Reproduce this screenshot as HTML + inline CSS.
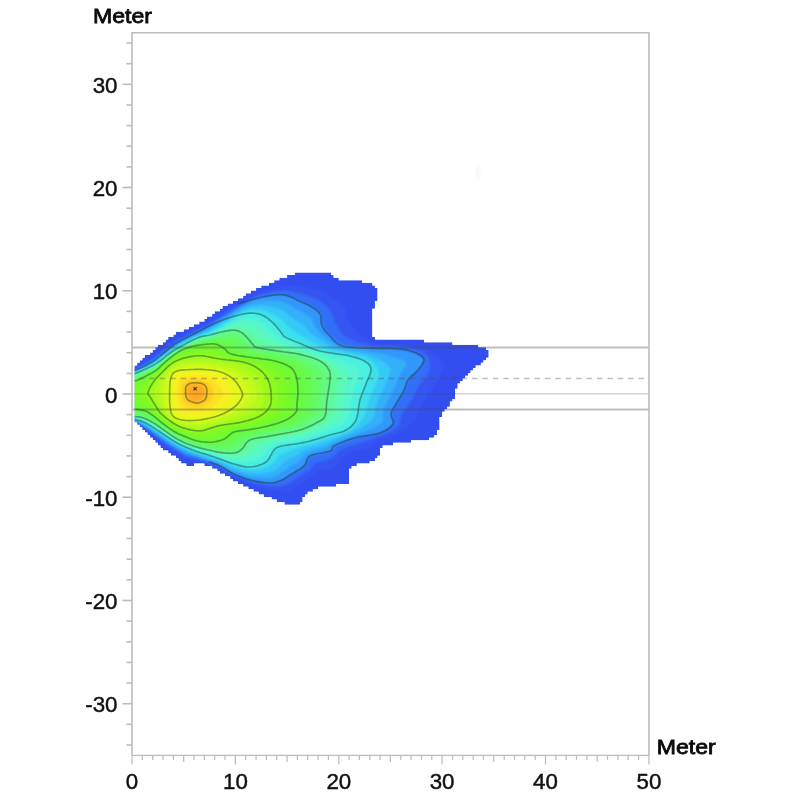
<!DOCTYPE html>
<html><head><meta charset="utf-8"><title>Meter</title>
<style>
html,body{margin:0;padding:0;background:#fff;}
body{width:800px;height:800px;overflow:hidden;position:relative;font-family:"Liberation Sans",sans-serif;}
svg{position:absolute;left:0;top:0;display:block;}
.lab{font-family:"Liberation Sans",sans-serif;font-size:22.3px;fill:#111;stroke:#111;stroke-width:0.45px;}
.ttl{font-family:"Liberation Sans",sans-serif;font-size:20.6px;fill:#0a0a0a;stroke:#0a0a0a;stroke-width:0.8px;}
</style></head><body>
<svg width="800" height="800" viewBox="0 0 800 800">
<defs>
<clipPath id="oc"><path d="M134.58,365.41 134.57,422.18 137.16,422.19 137.16,424.77 139.74,424.77 139.75,427.35 142.33,427.35 142.33,429.93 144.91,429.93 144.92,432.51 147.50,432.51 147.50,435.09 150.08,435.09 150.09,437.67 152.67,437.67 152.67,440.25 155.25,440.25 155.25,442.83 157.84,442.83 157.84,445.41 160.42,445.41 160.42,447.99 163.00,447.99 163.01,450.57 168.17,450.57 168.17,453.14 170.76,453.15 170.76,455.73 175.93,455.73 175.93,458.31 178.51,458.31 178.52,460.89 181.10,460.89 181.10,463.47 186.26,463.47 186.27,466.05 194.03,466.05 194.04,463.47 204.36,463.47 204.36,466.05 212.11,466.05 212.11,468.63 217.28,468.63 217.28,471.20 219.86,471.21 219.87,473.79 225.03,473.79 225.04,476.37 230.20,476.37 230.20,478.94 232.79,478.95 232.79,481.53 237.95,481.53 237.96,484.11 243.12,484.11 243.13,486.69 248.29,486.69 248.30,489.27 253.46,489.27 253.47,491.85 258.63,491.85 258.64,494.43 263.80,494.43 263.81,497.01 271.55,497.01 271.56,499.59 276.72,499.59 276.73,502.17 284.48,502.17 284.48,504.75 299.99,504.75 300.00,502.17 302.59,502.16 302.59,497.01 305.17,497.01 305.17,494.43 307.75,494.42 307.76,491.85 312.92,491.85 312.92,489.27 318.09,489.27 318.09,486.69 336.18,486.69 336.19,484.11 349.10,484.11 349.11,468.63 351.69,468.63 351.69,466.05 356.86,466.05 356.86,463.47 369.77,463.47 369.78,460.89 374.95,460.89 374.95,458.31 377.53,458.31 377.54,455.73 380.12,455.72 380.12,447.99 382.70,447.99 382.71,445.41 393.04,445.41 393.04,442.83 411.13,442.83 411.14,440.25 429.22,440.25 429.23,437.67 434.39,437.67 434.40,435.09 436.98,435.08 436.98,429.93 439.57,429.92 439.57,417.03 442.15,417.02 442.15,411.87 444.73,411.87 444.73,409.29 447.32,409.28 447.32,406.71 449.90,406.71 449.90,401.55 452.48,401.55 452.49,398.97 455.07,398.96 455.07,388.65 457.66,388.64 457.66,383.49 460.24,383.49 460.24,380.91 462.82,380.91 462.83,378.33 465.41,378.33 465.41,375.75 467.99,375.75 467.99,373.17 470.58,373.17 470.58,370.59 473.16,370.58 473.16,368.01 475.75,368.01 475.75,365.43 480.91,365.43 480.92,362.85 483.50,362.84 483.50,360.27 486.08,360.27 486.09,357.69 488.67,357.69 488.67,349.94 486.09,349.93 486.08,347.35 478.33,347.35 478.32,344.77 452.49,344.77 452.48,342.19 424.06,342.19 424.05,339.61 374.95,339.61 374.95,337.03 372.37,337.03 372.37,308.67 374.95,308.67 374.95,300.93 377.54,300.92 377.54,288.02 374.95,288.01 374.95,285.43 372.37,285.43 372.36,282.85 362.03,282.85 362.02,280.27 338.77,280.27 338.77,277.69 333.60,277.69 333.60,275.12 331.02,275.11 331.01,272.53 294.82,272.53 294.81,275.11 287.06,275.11 287.06,277.69 279.31,277.69 279.31,280.27 274.15,280.27 274.14,282.85 268.97,282.85 268.97,285.43 261.22,285.43 261.22,288.01 256.05,288.01 256.05,290.59 250.88,290.59 250.88,293.17 245.71,293.17 245.71,295.75 243.12,295.76 243.12,298.33 237.96,298.33 237.95,300.91 232.79,300.91 232.79,303.49 227.62,303.49 227.62,306.07 222.45,306.07 222.45,308.65 219.86,308.66 219.86,311.23 214.70,311.23 214.69,313.81 212.11,313.82 212.11,316.39 206.94,316.39 206.94,318.97 204.36,318.98 204.36,321.55 199.20,321.55 199.19,324.13 194.02,324.13 194.02,326.71 188.86,326.71 188.85,329.29 183.68,329.29 183.68,331.87 175.93,331.87 175.93,334.45 173.34,334.46 173.34,337.03 168.18,337.03 168.17,339.61 165.59,339.61 165.59,342.19 163.01,342.19 163.00,344.77 157.84,344.77 157.84,347.35 155.25,347.35 155.25,349.93 152.67,349.94 152.67,352.51 150.08,352.51 150.08,355.09 144.92,355.09 144.91,357.67 142.33,357.67 142.33,360.25 139.75,360.25 139.74,362.83 137.16,362.83 137.16,365.41Z"/></clipPath>
<filter id="b1" x="-5%" y="-5%" width="110%" height="110%"><feGaussianBlur stdDeviation="0.9"/></filter>
<filter id="b2" x="-5%" y="-5%" width="110%" height="110%"><feGaussianBlur stdDeviation="0.45"/></filter>
</defs>
<rect width="800" height="800" fill="#fff"/>
<!-- heat map -->
<g filter="url(#b2)">
<g clip-path="url(#oc)">
<path d="M134.58,365.41 134.57,422.18 137.16,422.19 137.16,424.77 139.74,424.77 139.75,427.35 142.33,427.35 142.33,429.93 144.91,429.93 144.92,432.51 147.50,432.51 147.50,435.09 150.08,435.09 150.09,437.67 152.67,437.67 152.67,440.25 155.25,440.25 155.25,442.83 157.84,442.83 157.84,445.41 160.42,445.41 160.42,447.99 163.00,447.99 163.01,450.57 168.17,450.57 168.17,453.14 170.76,453.15 170.76,455.73 175.93,455.73 175.93,458.31 178.51,458.31 178.52,460.89 181.10,460.89 181.10,463.47 186.26,463.47 186.27,466.05 194.03,466.05 194.04,463.47 204.36,463.47 204.36,466.05 212.11,466.05 212.11,468.63 217.28,468.63 217.28,471.20 219.86,471.21 219.87,473.79 225.03,473.79 225.04,476.37 230.20,476.37 230.20,478.94 232.79,478.95 232.79,481.53 237.95,481.53 237.96,484.11 243.12,484.11 243.13,486.69 248.29,486.69 248.30,489.27 253.46,489.27 253.47,491.85 258.63,491.85 258.64,494.43 263.80,494.43 263.81,497.01 271.55,497.01 271.56,499.59 276.72,499.59 276.73,502.17 284.48,502.17 284.48,504.75 299.99,504.75 300.00,502.17 302.59,502.16 302.59,497.01 305.17,497.01 305.17,494.43 307.75,494.42 307.76,491.85 312.92,491.85 312.92,489.27 318.09,489.27 318.09,486.69 336.18,486.69 336.19,484.11 349.10,484.11 349.11,468.63 351.69,468.63 351.69,466.05 356.86,466.05 356.86,463.47 369.77,463.47 369.78,460.89 374.95,460.89 374.95,458.31 377.53,458.31 377.54,455.73 380.12,455.72 380.12,447.99 382.70,447.99 382.71,445.41 393.04,445.41 393.04,442.83 411.13,442.83 411.14,440.25 429.22,440.25 429.23,437.67 434.39,437.67 434.40,435.09 436.98,435.08 436.98,429.93 439.57,429.92 439.57,417.03 442.15,417.02 442.15,411.87 444.73,411.87 444.73,409.29 447.32,409.28 447.32,406.71 449.90,406.71 449.90,401.55 452.48,401.55 452.49,398.97 455.07,398.96 455.07,388.65 457.66,388.64 457.66,383.49 460.24,383.49 460.24,380.91 462.82,380.91 462.83,378.33 465.41,378.33 465.41,375.75 467.99,375.75 467.99,373.17 470.58,373.17 470.58,370.59 473.16,370.58 473.16,368.01 475.75,368.01 475.75,365.43 480.91,365.43 480.92,362.85 483.50,362.84 483.50,360.27 486.08,360.27 486.09,357.69 488.67,357.69 488.67,349.94 486.09,349.93 486.08,347.35 478.33,347.35 478.32,344.77 452.49,344.77 452.48,342.19 424.06,342.19 424.05,339.61 374.95,339.61 374.95,337.03 372.37,337.03 372.37,308.67 374.95,308.67 374.95,300.93 377.54,300.92 377.54,288.02 374.95,288.01 374.95,285.43 372.37,285.43 372.36,282.85 362.03,282.85 362.02,280.27 338.77,280.27 338.77,277.69 333.60,277.69 333.60,275.12 331.02,275.11 331.01,272.53 294.82,272.53 294.81,275.11 287.06,275.11 287.06,277.69 279.31,277.69 279.31,280.27 274.15,280.27 274.14,282.85 268.97,282.85 268.97,285.43 261.22,285.43 261.22,288.01 256.05,288.01 256.05,290.59 250.88,290.59 250.88,293.17 245.71,293.17 245.71,295.75 243.12,295.76 243.12,298.33 237.96,298.33 237.95,300.91 232.79,300.91 232.79,303.49 227.62,303.49 227.62,306.07 222.45,306.07 222.45,308.65 219.86,308.66 219.86,311.23 214.70,311.23 214.69,313.81 212.11,313.82 212.11,316.39 206.94,316.39 206.94,318.97 204.36,318.98 204.36,321.55 199.20,321.55 199.19,324.13 194.02,324.13 194.02,326.71 188.86,326.71 188.85,329.29 183.68,329.29 183.68,331.87 175.93,331.87 175.93,334.45 173.34,334.46 173.34,337.03 168.18,337.03 168.17,339.61 165.59,339.61 165.59,342.19 163.01,342.19 163.00,344.77 157.84,344.77 157.84,347.35 155.25,347.35 155.25,349.93 152.67,349.94 152.67,352.51 150.08,352.51 150.08,355.09 144.92,355.09 144.91,357.67 142.33,357.67 142.33,360.25 139.75,360.25 139.74,362.83 137.16,362.83 137.16,365.41Z" fill="rgb(50,78,240)"/>
<g filter="url(#b1)">
<path fill="rgb(52, 84, 242)" d="M287,491.3 278.3,491.2 271,490.3 253.7,485.6 236,478.1 217,467.5 211.5,465 198.3,460.7 195,460.2 189.7,460.3 185,458.6 166,446.5 152.7,435.3 134.3,421.4 30,421.4 30,368.1 130.7,368.1 135,367.6 141.6,364 151.7,357.2 168.8,343.7 175.6,339 205.3,324.2 225.2,311 249.7,296.7 257.7,293.2 273.3,288.5 282,286.5 291,285.7 306.3,287.3 320.7,290.3 342.6,304.7 345.7,307.8 347,316.7 350.4,324.3 361,335.7 367.8,340.7 376.3,344 407,345.1 423.3,348.3 427,349.7 435,355 442.7,362 444.3,364.3 444.5,366 440.7,374.3 433.3,387 427.5,394.7 418.1,412 415.4,418.7 407.2,427.3 402.3,430.9 396.3,434.1 377.3,441 367.3,448.5 352.3,452.3 345.7,454.8 343,456.7 333,467.7 321,470.7 301,482.4 292,490.3Z"/>
<path fill="rgb(50, 110, 247)" d="M277.7,486.4 271.3,486.5 265.7,485.8 248.7,481.6 233,475 218,466.5 212.3,463.9 200.7,460.1 189.7,457.8 185,456 167.7,445.5 148.5,430.7 138.1,423.3 134.3,421.3 30,421 30,369.5 130.7,369.5 135.3,368.9 143.4,365 152.9,359 170,345.4 175.7,341.6 206.7,325.7 228.7,311.4 249.9,298.7 259,295.1 271.7,292.1 282,290.6 288.3,290.8 295.7,292.3 312,297.2 318,299.7 321,301.6 326,305.7 330.5,311 333.1,316 334.8,322.3 342,333.8 344.7,336.3 349.3,338.8 359.3,342.7 373.3,345.9 390.7,346.3 409.4,348 420.6,351.3 424.6,353.3 426.9,355.3 429.1,358.7 430.1,362.3 429.7,368.3 428.3,373.3 426,377.3 418.1,386.7 414.2,395 409,404.4 401.6,413.7 400,422.7 398.5,425.7 396.3,428 391.6,431.3 384,435.1 375.3,437.7 363,442.5 349.3,446.3 341.7,449.5 339,451.1 335,455.6 331.7,458 326.5,460.3 315,463.3 308.5,470.7 297,477.7 289,483.5 284.7,485.1Z"/>
<path fill="rgb(48, 151, 250)" d="M274,482.3 268.7,482.6 262,482 246.5,478.7 232.7,473 219,465.4 213,462.8 185.3,453.9 170,445.1 148.5,429.3 139.4,423.3 134.3,420.8 30,420.5 30,370.5 130.7,370.5 135.3,370 144.2,366 153.7,360.3 175.3,343.8 184.7,338.5 208,327.1 239,307.2 250.5,300.7 259.3,297.6 271.7,295.5 280,294.7 286,295.4 292.3,297.7 308.3,305 317,310.5 319.1,312.7 320.4,315 321.9,324 324.1,328.3 334.5,340 340.3,344.1 347.3,345.9 357.8,347.3 374,348.5 389.7,349 405.3,350.5 415.7,353.7 422.1,357.7 423.1,360.3 421.7,364.3 418,369.6 408.1,380 403.7,390.7 392.2,410.3 391.3,415 392.9,422.3 392.1,424.3 389.9,426.7 384.5,430.3 380.3,432.3 358.3,437.3 344.7,441.7 334.7,446.3 331.2,450.3 329.3,451.4 311.3,456 308.3,458.3 305,464.7 302.3,467.2 283.3,479.1Z"/>
<path fill="rgb(50, 177, 250)" d="M270,477.7 260,477.8 250.3,476.7 245,475.5 233,471 217.7,463.1 186.3,452.5 172.3,444.9 148.3,428 140.2,423 134.7,420.4 30,420.1 30,371.3 131,371.3 135.3,370.8 144.1,367 154.1,361.3 175.7,345.1 186.7,338.9 209,328.5 241.3,308.1 254,302.5 259.7,301.3 268.3,300.8 278,301 284.7,302.6 309.3,316.5 311.9,319 314.7,326.3 318.9,332 331,342.3 337.7,346.3 346.7,348.6 366.5,351 385.3,354.4 399.7,359 404,360.9 406,362.3 406.5,363.7 406,365 399.9,374.7 395.1,386.7 384.7,406.5 383.1,412 383,420.7 380.3,424 376.8,426.3 370.3,429.3 335.3,442.2 331.2,444.3 327,447.6 312.3,451.3 308.7,452.7 304.5,455.3 298.7,462.1 289.7,466.7 278.7,474.8 274,476.8Z"/>
<path fill="rgb(54, 201, 246)" d="M262.3,473.4 250,473.4 241,471.2 233,468.4 217.7,461.5 189.3,452 174,444.3 148,426.6 140.7,422.4 134.7,419.9 30,419.7 30,372 130.7,372 135,371.6 144.4,367.7 154.6,362 170.3,349.8 176.3,345.9 195.7,335.7 209.7,330.1 240.7,310.7 245.3,308.7 252.7,306.5 260,305.6 272,306.9 278.4,308.7 283.2,310.7 295.3,319.9 301.9,323.7 309.7,332.3 315.8,337.3 331.4,346.7 340.1,349.7 363.7,353.8 373.3,356.7 382.7,361.3 389.8,367.3 390.5,368.7 390.6,370.3 388.3,378.3 376.9,403 375.2,408.7 374,416.7 372.6,418.7 368.4,422.7 361.3,427.7 349,434.1 333.3,439.9 324.7,444.3 310.7,448 303.3,450.7 293.7,457 285,460.8 277.7,467.9 273.7,470.6 269.3,472.3Z"/>
<path fill="rgb(62, 224, 237)" d="M252.3,470 246.7,469.7 236.3,467.1 217,459.5 189.7,450.5 173.7,442.6 146.7,424.7 141,421.7 135,419.5 30,419.2 30,372.7 130.7,372.7 135,372.3 144.7,368.2 154.9,362.7 171,350.4 185.3,341.8 197.3,336 210.3,331.6 240.3,313.1 246.3,310.8 255.7,309.6 261.7,310.1 266.7,311.5 277.3,316.7 281.7,320 290.6,328.7 307.8,339.7 319.2,345.7 332,350.2 362.7,356.7 370.5,360.3 375.1,364 377,367 378.6,371 379.1,374.3 378.6,377.3 369.1,399.3 366.2,410.7 364.6,414.7 360.8,421.3 356.3,426 349.8,430.7 341.7,434.2 322,441.1 300.9,447 281.9,453.7 279.3,455.4 273,463.3 269.3,466.3 261,469Z"/>
<path fill="rgb(72, 239, 225)" d="M250,466.7 243,466 233.7,463.7 190.7,449.5 181.3,445.4 174.3,441.6 147,423.7 141.3,421 135.3,419 30,418.7 30,373.3 130.7,373.3 135,372.9 145,368.7 155,363.4 171,351.3 186.7,342.1 198,336.7 211,332.8 241,315.3 245.7,313.7 249.7,313.3 257.7,313.8 265.3,316.9 273.7,323.3 284.5,335.7 294.3,340.3 319.7,350.4 350,356.7 359.3,359.3 365,362.1 369,365.3 370.4,368.7 370.2,372.7 360.7,397.7 356.7,417.2 354.7,421.5 350.3,426.3 345.8,429.3 340.3,431.6 314,439.8 306,442 289,445 278,447.6 276,448.8 273.8,451 268.1,459.7 265.7,462 257.7,465.3Z"/>
<path fill="rgb(84, 246, 208)" d="M249.3,462 242.7,462.2 233,461 191.3,448.5 182,444.5 175,440.8 147.3,422.8 141.7,420.2 135.7,418.5 30,418.2 30,373.9 130.7,373.9 135,373.5 151.7,366.1 158.7,361.8 171.3,351.9 187,342.8 198.3,337.5 211.2,334 237,320.6 243,318.7 247.3,318 254.3,319 260.3,321.7 270.7,329.8 280.3,338.3 283.3,340.2 317,352.3 338.7,358.7 350.4,363.7 356.2,367 359.1,369.3 359.9,371 359.8,373 352.7,395.7 349.3,415.3 347.2,419.7 343.9,423.3 336.5,427.7 312.3,436.6 304.7,438.9 283.7,442.5 275.7,444.6 269.8,448.7 262,456.7 255.3,460.2Z"/>
<path fill="rgb(92, 250, 186)" d="M240,458.4 234,458.4 226.3,457 200.7,450.4 191.3,447.4 175.7,440.1 147.8,422 142,419.4 136.3,417.9 30,417.6 30,374.6 134.7,374.3 151.7,366.9 158.7,362.6 171.7,352.4 186.3,343.9 195.3,339.6 201,337.5 211.3,335.1 232.7,325.3 238,323.9 244.3,323.4 249.3,324.1 254.6,326.3 258,328.6 264,334.1 279.7,343 308.3,351.7 323,356.8 330.6,360 339.6,365.7 346.9,372.7 348.4,375 348.5,377.7 344.3,395.3 341.7,412.7 339.6,417 335,421.7 326.7,426.9 310.7,433.5 303,435.8 282.7,439.6 273,442.1 265.5,446 250,456.1 246.3,457.3Z"/>
<path fill="rgb(96, 250, 156)" d="M236.3,455.4 229.7,455.3 219.7,453.8 200.3,449.1 191.3,446.3 176.2,439.3 148.7,421.3 143.3,418.8 138.7,417.5 132.3,416.8 30,416.8 30,375.4 134.7,375.1 152.3,367.3 159,363.1 171.4,353.3 187.7,344 199,339 211,336.3 229.7,328.7 236,327.4 242.3,328.1 247.4,330 252.7,333.4 259.2,340 262.3,341.6 278.3,347 296.7,350.8 308.7,354.3 319.2,358 327.5,362.3 332.6,367 336.3,372.7 338.3,379 338.5,382 333.8,409.7 331,416.3 327.6,420.7 324.7,422.9 320.3,425.2 311,429.5 303.7,432.2 274.3,438.3 258.7,443.2 252.3,446.4 245,452.4 240,454.5Z"/>
<path fill="rgb(98, 250, 129)" d="M233.7,452.7 228,452.7 218.4,451.7 201,448 191.2,445 183.8,442 175.4,437.7 156.7,424.8 149,420.2 144,417.8 139.7,416.6 132.7,415.9 30,415.9 30,376.2 134.7,375.9 152.7,368 159,363.9 171.7,353.8 187.7,344.8 199.7,339.8 211,337.4 229.3,331.3 234,330.4 238,331.2 242.5,333.3 247.7,337.8 254.2,345 256.7,346.5 278.3,350.8 294.3,353.2 305,356 318,360.7 325.5,365.7 329.4,372 330,379.7 325.7,412.3 324.7,415.9 322.9,418.3 309.8,426 300.3,429.7 292.6,431.7 252,439.7 247.5,442.3 240.8,449.7 237.3,451.7Z"/>
<path fill="rgb(100, 250, 103)" d="M229.3,449.3 220.7,449.5 213.7,448.8 200.7,446.4 191,443.6 177.6,437.7 152.3,420.6 145.3,416.8 140.3,415.3 132.7,414.6 30,414.6 30,377.2 134.7,376.9 142.3,373.9 153,368.8 159,364.7 172,354.3 188,345.4 201.8,340.3 219,337.1 231.7,335.3 235,335.7 238.7,337.5 251.6,347.7 254.3,349.2 259.3,350.5 286,354.9 294.7,356.8 307.3,361.8 314.6,366 318.9,369.7 321.5,374.3 321.9,380 318.7,411 317.9,413.3 315.7,415.7 306,422.6 299.7,425.7 293,428.1 271.7,433.1 256,435.7 249.3,437.5 243.8,440.7 236,447.4 233,448.8Z"/>
<path fill="rgb(102, 250, 82)" d="M221.7,446.3 213.7,446.4 202.3,445 194,443.1 186,440.1 173.7,434 149.3,417 144.7,414.7 140.7,413.5 133,412.8 30,412.8 30,378.4 134.7,378.1 142.7,374.9 153.7,369.4 172.1,355 186.7,346.8 201.3,341.8 217.7,339.7 226.7,340.3 232.9,341.3 249.2,350.3 254.3,352.1 274,355.4 291.7,359.7 296.9,362 301.8,365 311.3,373.7 313.1,376.7 313.6,380 313.2,389.7 311.5,407.7 309.7,411.7 304.2,417.7 298,421.8 289.3,425.6 270.7,430.6 248.3,434.9 240,438.4 231.7,444.5Z"/>
<path fill="rgb(104, 250, 64)" d="M215.3,444 207,443.9 197,442.3 191,440.4 179.7,435.7 167.8,428.7 149.7,415.2 145,412.8 141,411.7 133,410.9 30,410.8 30,379.8 134.7,379.4 140,377.6 154,370.4 172.3,355.7 185.3,348.3 197.7,344.1 203,343 213.3,341.9 218,342.2 223.3,343.8 232.7,348.1 248.7,353.8 273,357.9 283.7,360.5 292.3,364.1 297.7,368.3 301.5,373.3 303.9,377.7 305.1,381 305.5,384.7 305.5,392.3 304.1,405 302.3,411 299.2,415.3 293.8,419.3 286.3,423.2 269.7,428.1 240.3,434.1 235.5,436 227.7,441.4 222.3,443Z"/>
<path fill="rgb(110, 250, 52)" d="M213.3,441.7 206.7,441.7 197.3,440.6 179.3,434 167.7,427.1 149.3,412.9 145.3,410.7 140.7,409.4 134.7,408.6 119.3,408.2 30,407.5 30,382.7 105.3,382.2 134.3,381.4 140.3,379.2 154.7,371.3 172.3,356.6 183.1,350.3 188,348.3 196.3,345.9 203.3,344.7 212,344 215.7,344.3 219.3,345.6 224,348 228.7,351.8 231.3,353 245.2,356 267,359.4 277,361.7 286.6,365.3 292.2,369.3 294.4,372.7 296.3,377.3 297.4,382.3 298.1,390.3 296.8,409 295.8,411.7 293.4,414.3 286.4,419.3 278.3,422.6 260.3,427.5 235.7,431.9 232,433.4 226.7,437.5 224,438.9 218.3,440.7Z"/>
<path fill="rgb(118, 250, 42)" d="M208,439 196.7,438.2 179,432.1 168,425.6 150.3,411 145.7,407.9 138,404.8 112.2,397.3 109.1,396 108.4,394.7 112.9,392.3 136.3,384.7 156,371.9 168,361.2 174.7,356.3 185.9,350.7 198,347.7 208,346.9 215.7,347.5 221,349.8 226.8,353.7 230,355 257,360.1 271.9,364.3 280.7,368.3 287,373.2 289.1,377 290.3,381.3 291.2,389.3 291.2,395.3 290,408.2 288.7,410.3 285,413.9 277.1,418.7 267.3,422.7 251.3,426.8 234,429.8 230.3,431.1 224.7,434.7 221,436.3 213.3,438.4Z"/>
<path fill="rgb(128, 250, 36)" d="M205,436 199.3,436 194,435 180.7,430.8 174.8,428 168.7,424.1 159.7,416.9 146,403.9 136,397 134.7,395.3 135,393.7 145.4,382.7 170.2,361 175.3,357.6 183.7,353.6 196.7,350.5 205,350 214,350.7 228.1,356.3 246,359.6 256,362.2 264.7,365.4 271.4,369 277.4,373.3 281.3,377.4 283.2,381.3 284.4,389 284,403 283.4,405.7 282.1,408 277,413 268.8,418.3 259.3,422.2 249.7,424.7 231.7,428 218.3,433.3 211.3,435.2Z"/>
<path fill="rgb(142, 250, 32)" d="M202,433.3 196,433 184.7,430.2 178,427.8 170.7,423.5 159.5,414.3 143.3,395.3 143,393.7 143.6,391.7 147.8,384.7 153.1,378.7 168.7,363.8 175.7,359.3 186,355.1 195.3,353.2 206.7,353.2 214.7,354.5 227,358 244.7,360.9 252.3,363.2 258.9,366 264.1,369 268.6,372.7 272.3,376.7 275.7,381.7 276.9,384.7 277.7,391.7 277.5,401 276.7,404 274.8,407.7 268.3,414.2 261.3,418.4 251.7,421.7 242.7,423.9 229,426.2 211,431.6Z"/>
<path fill="rgb(158, 250, 30)" d="M201.7,430.7 196.3,430.6 184.7,428.2 178.3,426.1 171,421.8 162.4,414.7 159.6,411.7 148.6,394.7 148.2,392.7 148.7,390.3 150.4,386.7 153.3,382.3 156.2,378.7 168,366.3 175,361.6 184.7,357.9 195,355.8 202.7,355.8 245.7,363.3 255.7,367.7 260.2,370.7 263.5,373.7 266.7,378 269.5,384 271.1,393 271,400 270.1,404.7 268.7,407.3 265.1,411.7 259.3,415.7 250,419.3 241.7,421.6 219,425.8Z"/>
<path fill="rgb(176, 250, 28)" d="M201,428 196.7,428.1 187,426.7 181,425.3 177.3,423.8 171.9,420.7 168.3,417.7 163.2,412.3 160.4,408 154.1,394 153.9,390.7 158.7,380.7 164.6,372.7 169.3,367.7 176,363.5 185,360.6 195.7,358.9 203.3,359.1 231.3,363.9 241.7,366.6 250.3,370.9 257.4,376.7 260.3,380.7 262.6,385.7 264,394 263.9,399 263.3,402.3 261.5,405.7 259.1,408.3 251.3,413.5 241.3,417.7Z"/>
<path fill="rgb(195, 250, 28)" d="M200,425.3 186.7,424.5 178,422.3 173.3,419.8 170.5,417.7 167.8,414.7 164.9,410 160.6,397.7 159.4,391 161.8,383.3 165,377 167.6,372.7 170.7,369.3 177,365.7 186.3,363.4 197,362.4 205.3,362.7 220.3,365.3 234.3,369 243.7,373.7 251.3,380.3 253.7,383.7 255.7,387.7 256.8,395 255.9,400.7 251.8,405.7 244.5,411 234,416 219.7,420.4Z"/>
<path fill="rgb(213, 250, 30)" d="M198.3,422.7 186.7,422.4 179.3,420.9 173,417.7 170.9,415.7 169.1,413 166.5,405.7 164.5,391.3 166.1,383.3 167.6,378.3 169.4,374.3 171.8,371.3 174.3,369.5 177.7,368.1 188.3,366.3 201.3,365.9 212.3,366.9 220.3,368.6 231,372.3 237.5,376.3 242.6,380.7 248.1,388.3 249.1,391 249.5,394.3 249.2,397 248.1,399.3 242.7,405.7 236.5,410.3 228.7,414.2 217.7,418.3 204.7,421.6Z"/>
<path fill="rgb(232, 248, 31)" d="M194.3,420 186,419.9 179,418.4 174.3,416 171.7,412.7 169.8,405.3 169.1,391.7 170.4,380 171.7,376 173.5,373.3 177.3,371 183.7,369.8 199,369.2 209.7,369.8 217,371.1 224.7,373.8 229.8,376.7 234.5,380.7 239.1,386.7 242.2,393.7 241,398.3 236.9,404 229.1,410 217.7,415.3 203.7,418.9Z"/>
<path fill="rgb(248, 240, 33)" d="M195.7,416 188.3,415.8 182,414.6 178,412.9 175.8,410.3 174,404 173.1,393.3 173.8,383 174.9,379 176.3,376.5 179.3,374.5 184.7,373.2 191.7,372.5 202.7,372.6 209.4,373.7 215,375.2 221.3,378.5 225.3,381.3 229.8,386.7 232.8,393.3 232.4,396.3 229.5,400.7 224.7,405.2 215.5,411 204,414.7Z"/>
<path fill="rgb(252, 225, 36)" d="M199,411.4 192.7,411.5 186.7,410.5 182.3,408.9 180,406.3 177.5,398 177.4,388 178.9,381.3 180,379.6 181.7,378.3 186,376.8 192,375.9 200.3,376 206.3,377.1 211,378.8 214.9,381.3 219,385 221.7,389 223,392.3 222.9,394.7 220.6,398.7 216.7,403 213.7,405.7 210.3,407.7 204.7,409.9Z"/>
<path fill="rgb(254, 203, 36)" d="M198.7,407 193.7,407 187.7,405.4 184.9,403.7 182.8,400.7 181.4,395.3 181.6,387.3 183,383.3 186,380.9 192.7,379.3 202,379.8 207.8,382.3 210.5,385 212.3,387.7 213.7,393.7 212.9,396.7 211.2,399.7 209,402.3 206.7,404 203,405.8Z"/>
<path fill="rgb(255, 183, 36)" d="M198.3,403 195,403.1 190.7,401.7 187.8,400 186,397.7 185.1,394 185.2,388.7 186.3,385.7 188.7,383.7 193.3,382.5 199.7,382.8 204,384.5 206.4,387.3 207.1,389.7 207.3,393 206.1,398 203.3,400.9Z"/>
<path fill="rgb(255, 169, 36)" d="M197.3,400 195,399.9 192,398.8 190,397.7 188.7,396 188,393.3 188.1,389.7 189,387.4 190.7,386.1 194.3,385.3 198.7,385.5 201.7,386.7 203.5,388.7 204.1,392.3 203.3,396.3 201,398.7Z"/>
<path fill="rgb(255, 165, 35)" d="M197.3,397 194,396.5 191.5,394.7 190.9,391 192.3,388.8 194.7,388.1 197.3,388.2 199.3,388.8 200.6,390 201.2,392.3 200.7,394.7 199.3,396.2Z"/>
</g>
</g>
</g>
<ellipse cx="478" cy="172" rx="2" ry="9" fill="#e6eafa" opacity="0.35" transform="rotate(8 478 172)" filter="url(#b1)"/>
<!-- iso lines -->
<g fill="none" stroke="#1a3424" stroke-opacity="0.43" stroke-width="1.65" stroke-linejoin="round" clip-path="url(#oc)" filter="url(#b2)">
<path d="M238,304 240.1,303.3 242.2,302.6 244.4,301.9 246.5,301.2 248.6,300.5 250.8,299.9 252.9,299.3 255,298.7 257.2,298.2 259.4,297.6 261.6,297.2 263.9,296.7 266.1,296.3 268.2,295.9 270.2,295.6 272,295.3 273.7,295.1 275.2,294.9 276.7,294.8 278.1,294.7 279.4,294.6 280.6,294.6 281.8,294.7 283,294.8 284.1,294.9 285.2,295.1 286.2,295.3 287.1,295.6 288.1,295.9 289,296.2 290,296.6 291,297 292.1,297.5 293.2,298 294.3,298.5 295.4,299.1 296.5,299.7 297.7,300.3 298.8,300.9 300,301.5 301.2,302 302.4,302.5 303.7,303 304.9,303.5 306.2,304.1 307.5,304.6 308.7,305.3 310,306 311.3,306.8 312.7,307.7 314.1,308.6 315.5,309.5 316.8,310.6 318.1,311.6 319.1,312.8 320,314 320.6,315.3 320.9,316.8 321.1,318.3 321.1,319.9 321.2,321.5 321.3,323 321.5,324.6 322,326 322.7,327.4 323.5,328.7 324.5,329.9 325.5,331.2 326.6,332.4 327.7,333.6 328.9,334.8 330,336 331.1,337.2 332.1,338.5 333.2,339.7 334.2,340.9 335.4,342.1 336.8,343.2 338.3,344.2 340,345 341.9,345.7 343.8,346.2 345.9,346.7 348.1,347 350.6,347.3 353.4,347.5 356.5,347.8 360,348 364.2,348.2 369.1,348.3 374.5,348.3 380.1,348.4 385.7,348.4 391.1,348.5 395.9,348.7 400,349 403.4,349.4 406.3,349.9 408.9,350.5 411.1,351.2 413.1,351.9 414.9,352.6 416.5,353.3 418,354 419.4,354.7 420.6,355.3 421.7,356 422.5,356.7 423.2,357.4 423.6,358.2 423.9,359.1 424,360 423.9,361.1 423.4,362.2 422.8,363.5 422,364.8 421.1,366.1 420.1,367.4 419,368.7 418,370 416.9,371.2 415.6,372.5 414.3,373.8 412.9,375 411.5,376.2 410.2,377.5 409,378.8 408,380 407.2,381.2 406.7,382.4 406.2,383.6 405.9,384.8 405.5,386 405.1,387.2 404.7,388.6 404,390 403.2,391.6 402.2,393.3 401.2,395.1 400.1,397 399,398.9 397.9,400.7 396.9,402.4 396,404 395.2,405.4 394.4,406.8 393.6,408 392.9,409.2 392.2,410.4 391.7,411.6 391.3,412.8 391,414 391,415.3 391.4,416.5 391.9,417.8 392.5,419.1 393,420.3 393.4,421.6 393.4,422.8 393,424 392.2,425.2 391.1,426.4 389.8,427.6 388.2,428.8 386.5,430 384.5,431.1 382.3,432.1 380,433 377.3,433.8 374.3,434.5 370.9,435 367.4,435.6 363.9,436.1 360.4,436.6 357.1,437.3 354,438 351.1,438.9 348.2,439.9 345.4,440.9 342.6,442 340.1,443.1 337.7,444.1 335.7,445.1 334,446 332.8,446.8 332.2,447.5 332,448.1 332,448.7 332,449.3 331.8,449.8 331.2,450.4 330,451 328.2,451.6 325.8,452.1 323.1,452.7 320.1,453.2 317.2,453.8 314.4,454.4 311.9,455.1 310,456 308.6,457 307.7,458.2 307.1,459.4 306.6,460.8 306.2,462.1 305.7,463.5 305,464.8 304,466 302.6,467.2 300.9,468.4 299.1,469.6 297.1,470.8 295.2,472 293.3,473.1 291.5,474.1 290,475 288.7,475.8 287.7,476.6 286.7,477.3 285.9,477.9 285,478.4 284.1,479 283.2,479.5 282,480 280.7,480.5 279.5,481 278.1,481.5 276.8,482 275.3,482.4 273.7,482.7 271.9,482.9 270,483 267.9,482.9 265.5,482.7 262.9,482.4 260.2,482.1 257.6,481.6 254.9,481.1 252.4,480.6 250,480 247.8,479.4 245.7,478.8 243.6,478.1 241.6,477.3 239.7,476.5 237.8,475.7 235.9,474.9 234,474 232.1,473.1 230.3,472.1 228.5,471 226.7,469.9 225,468.8 223.3,467.8 221.6,466.8 220,466 218.5,465.3 217,464.6 215.6,464.1 214.2,463.5 212.8,463 211.5,462.5 210.1,462 208.8,461.5"/>
<path d="M134.5,370.5 135.8,369.9 137.1,369.4 138.5,368.9 139.8,368.3 141.1,367.8 142.4,367.2 143.7,366.6 145,366 146.3,365.3 147.5,364.7 148.8,363.9 150,363.2 151.3,362.5 152.5,361.7 153.8,360.9 155,360 156.2,359.1 157.5,358.1 158.8,357.1 160,356.1 161.2,355.1 162.5,354 163.8,353 165,352 166.2,351 167.4,350 168.5,349 169.7,348 170.9,347 172.1,346 173.5,345 175,344 176.7,343 178.5,341.9 180.5,340.9 182.5,339.8 184.5,338.8 186.5,337.8 188.3,336.9 190,336 191.5,335.2 192.9,334.6 194.1,333.9 195.3,333.3 196.5,332.8 197.6,332.2 198.8,331.6 200,331 201.2,330.3 202.3,329.7 203.4,329 204.6,328.4 205.7,327.7 207,327 208.4,326.3 210,325.5 211.8,324.7 213.8,323.8 215.9,322.8 218.1,321.9 220.3,320.9 222.6,320 224.8,319.2 227,318.4 229.1,317.7 231.3,317 233.5,316.4 235.7,315.7 237.9,315.2 240,314.7 241.9,314.3 243.8,313.9 245.4,313.6 247,313.4 248.5,313.2 249.9,313.1 251.2,313.1 252.5,313.1 253.7,313.2 255,313.3 256.2,313.5 257.4,313.6 258.5,313.9 259.6,314.2 260.7,314.5 261.8,315 262.9,315.4 264,316 265.1,316.7 266.3,317.4 267.5,318.2 268.6,319.1 269.8,320.1 270.9,321 272,322 273,322.9 274,323.9 274.9,324.8 275.8,325.9 276.7,326.9 277.5,327.9 278.3,328.9 279,329.9 279.8,330.8 280.4,331.6 281,332.4 281.5,333.1 282,333.9 282.5,334.5 283,335.2 283.6,335.8 284.2,336.4 285,336.9 285.7,337.4 286.5,337.8 287.3,338.2 288.2,338.6 289.1,338.9 290,339.3 291,339.8 291.9,340.2 292.8,340.6 293.7,341 294.7,341.4 295.7,341.8 296.9,342.3 298.3,342.8 300,343.5 301.9,344.3 304,345.2 306.3,346.1 308.7,347.2 311.3,348.2 314,349.2 316.9,350.2 320,351 323.4,351.7 327.1,352.4 331.1,353 335.2,353.6 339.3,354.2 343.2,354.7 346.9,355.3 350,356 352.7,356.7 355.2,357.4 357.5,358.1 359.6,358.8 361.4,359.6 363.1,360.3 364.6,361.1 366,362 367.2,362.9 368.3,363.7 369.1,364.6 369.8,365.5 370.3,366.5 370.7,367.5 370.9,368.7 371,370 370.9,371.4 370.5,373 369.9,374.7 369.2,376.5 368.4,378.3 367.6,380.2 366.7,382.1 366,384 365.3,385.9 364.5,387.8 363.7,389.7 362.9,391.6 362.1,393.6 361.4,395.7 360.7,397.8 360,400 359.4,402.4 359,405 358.6,407.6 358.2,410.4 357.9,413.1 357.4,415.6 356.8,418 356,420 355.1,421.8 354.1,423.3 353,424.7 351.8,425.9 350.5,427.1 349.1,428.1 347.6,429.1 346,430 344.3,430.9 342.6,431.6 340.8,432.2 338.9,432.7 336.8,433.2 334.7,433.7 332.4,434.3 330,435 327.4,435.8 324.6,436.7 321.6,437.6 318.5,438.6 315.4,439.5 312.2,440.4 309.1,441.3 306,442 302.9,442.6 299.6,443.2 296.3,443.7 293,444.2 289.8,444.6 286.9,445.1 284.2,445.5 282,446 280.2,446.4 278.9,446.8 277.8,447.1 277,447.5 276.3,447.9 275.6,448.4 274.9,449.1 274,450 273.1,451.2 272.2,452.6 271.4,454.2 270.5,455.9 269.6,457.7 268.6,459.3 267.4,460.8 266,462 264.4,463 262.6,463.9 260.6,464.7 258.5,465.4 256.4,466 254.2,466.5 252.1,466.8 250,467 248,467 246,466.9 243.9,466.5 241.9,466.1 239.9,465.6 237.9,465.1 235.9,464.5 234,464 232.1,463.5 230.3,462.9 228.5,462.2 226.7,461.6 225,460.9 223.3,460.2 221.6,459.6 220,459 218.5,458.5 217,458 215.6,457.5 214.2,457 212.8,456.5 211.5,456.1 210.1,455.6 208.8,455.2 207.3,454.8 205.9,454.3 204.5,453.9 203.1,453.5 201.7,453.1 200.3,452.7 198.9,452.3 197.5,451.8 196.1,451.3 194.7,450.8 193.3,450.2 191.9,449.7 190.5,449.1 189.1,448.5 187.7,447.9 186.2,447.3 184.8,446.7 183.4,446 182,445.4 180.6,444.7 179.2,444 177.8,443.2 176.4,442.5 175,441.7 173.6,440.9 172.2,440 170.8,439.1 169.4,438.2 168,437.2 166.6,436.3 165.2,435.3 163.8,434.4 162.3,433.5 160.9,432.5 159.4,431.5 158,430.6 156.6,429.6 155.2,428.7 153.8,427.8 152.5,427 151.3,426.2 150.1,425.5 149,424.9 147.9,424.2 146.8,423.6 145.7,423 144.6,422.5 143.5,422 142.4,421.5 141.2,421.1 140.1,420.8 139,420.5 137.9,420.2 136.8,419.8 135.6,419.5 134.5,419.2"/>
<path d="M134.5,374 136.5,373.1 138.5,372.2 140.6,371.3 142.6,370.4 144.6,369.6 146.5,368.7 148.3,367.8 150,367 151.5,366.2 152.9,365.5 154.2,364.8 155.3,364.1 156.5,363.4 157.6,362.6 158.8,361.8 160,361 161.2,360.1 162.5,359.1 163.8,358.1 165,357 166.2,355.9 167.5,354.9 168.8,353.9 170,353 171.2,352.2 172.5,351.3 173.8,350.6 175,349.8 176.2,349.1 177.5,348.4 178.8,347.7 180,347 181.2,346.3 182.5,345.6 183.8,344.9 185,344.2 186.2,343.5 187.5,342.8 188.8,342.1 190,341.5 191.2,340.9 192.5,340.2 193.8,339.6 195,339 196.2,338.5 197.5,337.9 198.8,337.4 200,337 201.2,336.6 202.5,336.3 203.7,336.1 204.9,335.9 206.2,335.7 207.4,335.5 208.7,335.3 210,335 211.3,334.7 212.7,334.3 214,333.9 215.4,333.5 216.8,333.1 218.2,332.7 219.6,332.3 221,332 222.4,331.7 223.9,331.4 225.4,331.1 226.9,330.8 228.4,330.6 229.9,330.4 231.2,330.2 232.5,330.2 233.7,330.2 234.8,330.3 235.8,330.4 236.8,330.6 237.7,330.8 238.6,331.1 239.5,331.5 240.4,331.9 241.3,332.4 242.2,333 243,333.7 243.8,334.4 244.6,335.1 245.4,335.9 246.2,336.7 247,337.5 247.8,338.3 248.5,339.2 249.3,340.1 250,341 250.7,341.9 251.4,342.8 252.1,343.6 252.8,344.2 253.3,344.8 253.6,345.3 253.8,345.8 254.1,346.1 254.5,346.5 255,346.8 255.9,347.2 257.2,347.6 259,348 261.2,348.4 263.6,348.9 266.2,349.3 269,349.7 271.9,350.1 274.8,350.6 277.5,351 280.2,351.4 283,351.8 285.9,352.1 288.8,352.5 291.6,352.9 294.5,353.3 297.3,353.8 300,354.4 302.7,355.1 305.4,355.8 308.2,356.5 310.8,357.3 313.4,358.2 315.8,359.1 318,360 320,361 321.7,362 323.2,363.1 324.5,364.2 325.7,365.3 326.7,366.4 327.6,367.6 328.3,368.8 329,370 329.5,371.1 329.9,372.2 330.1,373.2 330.2,374.3 330.3,375.5 330.2,376.8 330.1,378.3 330,380 329.8,382 329.5,384.4 329.1,386.9 328.7,389.6 328.2,392.4 327.8,395 327.4,397.6 327,400 326.7,402.3 326.5,404.5 326.4,406.7 326.2,408.9 326.1,410.9 325.8,412.8 325.5,414.5 325,416 324.4,417.2 323.9,418.2 323.2,418.9 322.5,419.5 321.7,420 320.6,420.6 319.4,421.2 318,422 316.4,422.9 314.6,423.9 312.6,424.9 310.4,426 308.1,427.1 305.6,428.1 302.9,429.1 300,430 296.8,430.9 293.1,431.7 289.2,432.5 285.1,433.2 281,434 277.1,434.7 273.4,435.4 270,436 266.9,436.6 264,437 261.2,437.4 258.6,437.8 256.2,438.2 253.9,438.7 251.9,439.3 250,440 248.4,440.9 247.2,442 246.1,443.2 245.2,444.5 244.5,445.8 243.7,447 242.9,448.1 242,449 241,449.8 240.1,450.5 239.3,451.1 238.4,451.6 237.4,452.1 236.4,452.4 235.3,452.8 234,453 232.5,453.2 230.9,453.2 229.1,453.2 227.2,453.1 225.3,453 223.4,452.8 221.7,452.6 220,452.4 218.5,452.2 217,451.9 215.6,451.6 214.2,451.3 212.8,451 211.5,450.7 210.1,450.3 208.8,450 207.3,449.7 205.9,449.4 204.5,449.1 203.1,448.7 201.7,448.4 200.3,448.1 198.9,447.7 197.5,447.3 196.1,446.9 194.7,446.5 193.3,446 191.9,445.5 190.5,445 189.1,444.5 187.7,444 186.2,443.4 184.8,442.8 183.4,442.2 182,441.5 180.6,440.8 179.2,440.1 177.8,439.4 176.4,438.6 175,437.8 173.6,436.9 172.1,435.9 170.7,434.9 169.2,433.9 167.8,432.9 166.4,431.9 165,430.9 163.8,430 162.5,429.1 161.4,428.3 160.3,427.5 159.2,426.7 158.2,426 157.1,425.2 156,424.4 154.8,423.7 153.4,422.9 152,422.1 150.6,421.3 149.1,420.6 147.7,419.8 146.2,419.1 144.8,418.5 143.5,418 142.3,417.6 141.1,417.3 140,417.1 138.9,416.9 137.8,416.8 136.7,416.7 135.6,416.6 134.5,416.4"/>
<path d="M134.5,381 135.1,380.8 135.7,380.6 136.1,380.5 136.7,380.4 137.2,380.2 138,379.9 138.9,379.5 140,379 141.5,378.3 143.2,377.4 145.2,376.4 147.3,375.3 149.5,374.2 151.5,373.1 153.4,372 155,371 156.3,370.1 157.5,369.2 158.6,368.3 159.5,367.4 160.4,366.5 161.2,365.7 162.1,364.8 163,364 163.9,363.2 164.8,362.5 165.6,361.7 166.4,361 167.2,360.3 168.1,359.5 169,358.8 170,358 171.1,357.2 172.3,356.2 173.5,355.3 174.8,354.4 176.1,353.4 177.4,352.6 178.7,351.7 180,351 181.2,350.3 182.5,349.7 183.8,349.2 185,348.7 186.2,348.2 187.5,347.8 188.8,347.4 190,347 191.2,346.6 192.5,346.3 193.8,346.1 195,345.8 196.2,345.6 197.5,345.4 198.8,345.2 200,345 201.3,344.8 202.6,344.6 203.9,344.5 205.2,344.3 206.5,344.2 207.7,344.1 208.9,344 210,344 211,344 211.9,343.9 212.8,343.9 213.7,343.9 214.5,344 215.3,344.1 216.1,344.2 217,344.5 217.9,344.9 218.9,345.3 219.9,345.8 221,346.4 222,347 222.9,347.6 223.8,348.2 224.6,348.8 225.3,349.3 225.8,349.9 226.3,350.4 226.7,351 227.2,351.5 227.7,352.1 228.3,352.6 229,353 229.9,353.4 230.7,353.7 231.7,354.1 232.7,354.4 233.8,354.6 235.1,354.9 236.5,355.2 238,355.5 239.7,355.8 241.6,356.1 243.7,356.4 245.8,356.7 248.1,357 250.4,357.3 252.7,357.7 255,358 257.4,358.3 259.9,358.6 262.5,359 265.1,359.3 267.7,359.6 270.3,360 272.7,360.5 275,361 277.2,361.6 279.3,362.2 281.4,362.9 283.4,363.6 285.3,364.4 287,365.2 288.6,366.1 290,367 291.2,367.9 292.2,368.9 293.1,369.9 293.8,371 294.4,372.1 295,373.3 295.5,374.6 296,376 296.5,377.5 296.9,379.1 297.2,380.9 297.4,382.7 297.6,384.5 297.8,386.4 297.9,388.2 298,390 298,391.8 298,393.6 297.8,395.5 297.7,397.4 297.5,399.2 297.3,400.9 297.1,402.5 297,404 296.9,405.3 297,406.4 297,407.4 297.1,408.4 297,409.3 296.9,410.1 296.6,411 296,412 295.2,413 294.3,414.1 293.2,415.1 291.9,416.2 290.6,417.2 289.1,418.2 287.6,419.1 286,420 284.3,420.8 282.5,421.6 280.6,422.3 278.6,423 276.6,423.7 274.4,424.3 272.2,424.9 270,425.5 267.7,426.1 265.2,426.6 262.6,427.2 260,427.7 257.4,428.2 254.8,428.6 252.3,429.1 250,429.5 247.8,429.9 245.5,430.1 243.4,430.4 241.2,430.6 239.2,430.9 237.3,431.2 235.6,431.5 234,432 232.6,432.6 231.4,433.3 230.3,434.1 229.4,435 228.5,435.9 227.7,436.7 226.8,437.4 226,438 225.2,438.5 224.4,438.9 223.7,439.2 223.1,439.5 222.4,439.8 221.7,440 220.9,440.2 220,440.5 219,440.8 218.1,441.1 217,441.3 216,441.6 214.8,441.8 213.6,442 212.4,442.2 211,442.2 209.5,442.3 207.9,442.2 206.2,442.1 204.4,442 202.6,441.8 200.8,441.6 199.1,441.3 197.5,441 196,440.6 194.5,440.2 193.1,439.7 191.7,439.2 190.4,438.7 189,438.1 187.6,437.6 186.2,437 184.8,436.4 183.4,435.9 182,435.3 180.6,434.7 179.2,434.1 177.8,433.5 176.4,432.8 175,432 173.6,431.2 172.2,430.3 170.8,429.4 169.4,428.4 168,427.4 166.6,426.3 165.2,425.3 163.8,424.2 162.3,423.2 160.9,422 159.4,420.8 157.9,419.5 156.5,418.4 155.1,417.2 153.7,416.2 152.5,415.2 151.4,414.5 150.3,413.7 149.4,413.1 148.5,412.5 147.6,412 146.7,411.6 145.7,411.2 144.6,410.8 143.4,410.4 142.2,410.1 141,409.9 139.7,409.7 138.4,409.5 137.1,409.4 135.8,409.2 134.5,409"/>
<path d="M148,393 148.2,392.1 148.5,391.1 148.9,390 149.4,388.8 149.9,387.6 150.6,386.4 151.3,385.2 152,384 152.8,382.9 153.6,381.7 154.4,380.6 155.3,379.5 156.3,378.3 157.4,377.1 158.6,375.9 160,374.5 161.5,373 163.1,371.3 164.8,369.6 166.6,367.8 168.5,366 170.6,364.3 172.7,362.8 175,361.5 177.5,360.4 180.1,359.3 182.9,358.4 185.8,357.6 188.7,356.9 191.7,356.4 194.6,356 197.5,355.8 200.3,355.7 203.1,355.9 205.8,356.3 208.6,356.8 211.4,357.4 214.2,358 217.1,358.5 220,359 223.1,359.4 226.3,359.8 229.6,360.1 233,360.5 236.2,360.9 239.4,361.3 242.3,361.9 245,362.5 247.4,363.2 249.6,364 251.7,364.9 253.6,365.8 255.3,366.8 257,367.9 258.5,368.9 260,370 261.4,371.1 262.6,372.3 263.7,373.5 264.8,374.7 265.7,376 266.5,377.3 267.3,378.6 268,380 268.6,381.4 269.2,382.8 269.7,384.3 270.1,385.8 270.4,387.3 270.6,388.8 270.9,390.4 271,392 271.1,393.7 271.2,395.5 271.3,397.3 271.3,399.1 271.2,401 271,402.7 270.6,404.4 270,406 269.2,407.5 268.3,408.9 267.3,410.2 266.1,411.5 264.7,412.7 263.3,413.9 261.7,415 260,416 258.2,417 256.2,417.8 254,418.7 251.8,419.4 249.4,420.1 247,420.8 244.5,421.4 242,422 239.4,422.6 236.5,423.1 233.6,423.5 230.6,423.9 227.6,424.3 224.8,424.7 222.3,425.1 220,425.5 218.1,425.9 216.4,426.4 214.9,426.8 213.6,427.2 212.3,427.6 211.2,428 210,428.4 208.8,428.8 207.5,429.1 206.4,429.5 205.4,429.9 204.4,430.2 203.4,430.5 202.3,430.8 201.1,430.9 199.8,431 198.3,430.9 196.6,430.8 194.9,430.6 193.1,430.3 191.3,430 189.6,429.6 187.9,429.2 186.2,428.8 184.8,428.3 183.3,427.9 182,427.5 180.6,427 179.3,426.5 177.9,425.8 176.5,425.1 175,424.2 173.4,423.2 171.6,422 169.8,420.7 167.9,419.3 166.1,417.9 164.4,416.5 162.8,415.2 161.5,414 160.4,412.9 159.5,411.9 158.8,411 158.2,410.1 157.7,409.2 157.1,408.2 156.5,407.3 155.9,406.2 155.2,405.1 154.4,403.9 153.6,402.7 152.9,401.4 152.1,400.2 151.4,399 150.8,397.9 150.2,397 149.8,396.3 149.3,395.7 148.9,395.3 148.5,395 148.2,394.6 148,394.2 148,393.7Z"/>
<path d="M169.6,395 169.6,393.7 169.6,392.3 169.7,390.8 169.7,389.3 169.7,387.8 169.8,386.4 169.8,385.1 169.9,384 170,383 170.1,382.2 170.1,381.5 170.2,380.8 170.3,380.2 170.5,379.7 170.6,379.1 170.8,378.5 170.9,377.9 171.1,377.3 171.3,376.7 171.5,376.1 171.7,375.5 171.9,375 172.2,374.5 172.5,374 172.8,373.6 173.2,373.2 173.6,372.8 174,372.5 174.5,372.2 175,371.9 175.5,371.6 176,371.4 176.5,371.2 177,371 177.6,370.8 178.1,370.6 178.8,370.5 179.5,370.3 180.3,370.2 181.2,370.1 182.4,370 183.6,369.9 185,369.8 186.5,369.7 188,369.7 189.5,369.6 191.1,369.5 192.5,369.5 193.9,369.5 195.3,369.4 196.7,369.4 198.1,369.4 199.5,369.4 200.9,369.4 202.3,369.4 203.8,369.5 205.2,369.6 206.7,369.7 208.1,369.8 209.6,369.9 211.1,370.1 212.5,370.2 213.8,370.4 215,370.6 216.1,370.8 217.1,371 218.1,371.2 219,371.5 219.9,371.7 220.7,372 221.6,372.3 222.5,372.7 223.4,373.1 224.4,373.5 225.4,373.9 226.3,374.4 227.3,374.9 228.2,375.4 229.1,375.9 230,376.5 230.8,377.1 231.6,377.7 232.4,378.4 233.2,379.1 233.9,379.8 234.6,380.5 235.3,381.2 236,382 236.7,382.8 237.3,383.7 237.9,384.5 238.5,385.4 239.1,386.3 239.6,387.2 240.1,388.1 240.5,389 240.9,389.8 241.3,390.6 241.7,391.4 242.1,392.2 242.3,393 242.5,393.8 242.6,394.6 242.5,395.5 242.3,396.4 241.9,397.4 241.4,398.5 240.9,399.5 240.2,400.5 239.5,401.6 238.8,402.6 238,403.5 237.2,404.4 236.3,405.3 235.4,406.1 234.4,406.9 233.4,407.7 232.3,408.5 231.2,409.2 230,410 228.7,410.8 227.4,411.5 226,412.2 224.6,413 223.1,413.7 221.6,414.3 220.2,414.9 218.8,415.5 217.3,416 215.9,416.5 214.5,416.9 213.1,417.3 211.7,417.6 210.3,418 208.9,418.3 207.5,418.6 206.1,418.9 204.7,419.2 203.3,419.4 201.9,419.6 200.5,419.8 199.1,420 197.7,420.2 196.2,420.3 194.8,420.4 193.3,420.5 191.9,420.5 190.4,420.6 188.9,420.6 187.5,420.5 186.2,420.5 185,420.4 183.9,420.3 182.8,420.1 181.8,420 180.8,419.8 179.9,419.6 179.1,419.3 178.3,419.1 177.5,418.8 176.8,418.5 176.1,418.2 175.5,417.9 174.9,417.6 174.4,417.2 173.9,416.8 173.4,416.4 173,416 172.6,415.5 172.2,415.1 171.9,414.6 171.7,414 171.4,413.5 171.2,412.9 171,412.2 170.8,411.5 170.6,410.7 170.4,409.9 170.3,409 170.1,408 170,407.1 170,406.1 169.9,405 169.8,404 169.7,403 169.7,401.9 169.6,400.8 169.6,399.7 169.6,398.6 169.6,397.4 169.6,396.2Z"/>
<path d="M185.5,391 185.5,390.3 185.6,389.6 185.6,388.9 185.7,388.2 185.9,387.6 186,387 186.2,386.5 186.5,386 186.8,385.6 187.1,385.2 187.5,384.8 187.9,384.5 188.4,384.2 188.9,383.9 189.4,383.7 190,383.5 190.6,383.3 191.3,383.1 192,383 192.8,382.9 193.6,382.8 194.4,382.8 195.2,382.7 196,382.8 196.9,382.8 197.8,382.9 198.7,383 199.7,383.1 200.6,383.2 201.5,383.4 202.3,383.7 203,384 203.6,384.4 204.2,384.8 204.7,385.2 205.2,385.7 205.6,386.2 205.9,386.8 206.2,387.4 206.5,388 206.7,388.7 206.8,389.4 206.9,390.1 207,390.9 207,391.7 206.9,392.5 206.9,393.3 206.8,394 206.7,394.7 206.6,395.5 206.5,396.2 206.4,396.9 206.1,397.6 205.9,398.3 205.5,398.9 205,399.5 204.4,400.1 203.6,400.6 202.8,401.2 201.8,401.7 200.9,402.1 199.9,402.5 198.9,402.8 198,403 197.1,403.1 196.2,403 195.3,402.9 194.3,402.7 193.4,402.4 192.6,402.1 191.8,401.8 191,401.5 190.3,401.2 189.6,400.8 189,400.5 188.4,400.1 187.8,399.7 187.3,399.2 186.9,398.6 186.5,398 186.2,397.3 186,396.4 185.8,395.5 185.7,394.6 185.6,393.6 185.5,392.7 185.5,391.8Z"/>
</g>
<!-- road lines -->
<g stroke="#4a4a4a" fill="none">
<line x1="132" y1="347.5" x2="649" y2="347.5" stroke-width="1.9" stroke-opacity="0.36"/>
<line x1="132" y1="409.5" x2="649" y2="409.5" stroke-width="2.1" stroke-opacity="0.36"/>
<line x1="132" y1="393.8" x2="649" y2="393.8" stroke-width="1.2" stroke-opacity="0.3"/>
<line x1="138.9" y1="378.6" x2="646" y2="378.6" stroke-width="1.5" stroke-opacity="0.36" stroke-dasharray="5.5 4.91"/>
</g>
<!-- max marker -->
<g stroke="#3a2e1c" stroke-width="1.25" stroke-opacity="0.85"><line x1="193.5" y1="387.2" x2="196.7" y2="390.4"/><line x1="196.7" y1="387.2" x2="193.5" y2="390.4"/></g>
<!-- frame and axes -->
<g stroke="#bcbcbc" stroke-width="1.6" fill="none">
<path d="M132,755.4V32.7H649V755.4"/>
<path d="M132,755.4H649" stroke-width="1.2"/>
<line x1="126.5" y1="745.0" x2="132.0" y2="745.0"/>
<line x1="126.5" y1="724.3" x2="132.0" y2="724.3"/>
<line x1="122.5" y1="703.7" x2="132.0" y2="703.7"/>
<line x1="126.5" y1="683.0" x2="132.0" y2="683.0"/>
<line x1="126.5" y1="662.4" x2="132.0" y2="662.4"/>
<line x1="126.5" y1="641.8" x2="132.0" y2="641.8"/>
<line x1="126.5" y1="621.1" x2="132.0" y2="621.1"/>
<line x1="122.5" y1="600.5" x2="132.0" y2="600.5"/>
<line x1="126.5" y1="579.8" x2="132.0" y2="579.8"/>
<line x1="126.5" y1="559.2" x2="132.0" y2="559.2"/>
<line x1="126.5" y1="538.5" x2="132.0" y2="538.5"/>
<line x1="126.5" y1="517.9" x2="132.0" y2="517.9"/>
<line x1="122.5" y1="497.2" x2="132.0" y2="497.2"/>
<line x1="126.5" y1="476.6" x2="132.0" y2="476.6"/>
<line x1="126.5" y1="455.9" x2="132.0" y2="455.9"/>
<line x1="126.5" y1="435.3" x2="132.0" y2="435.3"/>
<line x1="126.5" y1="414.6" x2="132.0" y2="414.6"/>
<line x1="122.5" y1="394.0" x2="132.0" y2="394.0"/>
<line x1="126.5" y1="373.4" x2="132.0" y2="373.4"/>
<line x1="126.5" y1="352.7" x2="132.0" y2="352.7"/>
<line x1="126.5" y1="332.1" x2="132.0" y2="332.1"/>
<line x1="126.5" y1="311.4" x2="132.0" y2="311.4"/>
<line x1="122.5" y1="290.8" x2="132.0" y2="290.8"/>
<line x1="126.5" y1="270.1" x2="132.0" y2="270.1"/>
<line x1="126.5" y1="249.5" x2="132.0" y2="249.5"/>
<line x1="126.5" y1="228.8" x2="132.0" y2="228.8"/>
<line x1="126.5" y1="208.2" x2="132.0" y2="208.2"/>
<line x1="122.5" y1="187.5" x2="132.0" y2="187.5"/>
<line x1="126.5" y1="166.9" x2="132.0" y2="166.9"/>
<line x1="126.5" y1="146.2" x2="132.0" y2="146.2"/>
<line x1="126.5" y1="125.6" x2="132.0" y2="125.6"/>
<line x1="126.5" y1="105.0" x2="132.0" y2="105.0"/>
<line x1="122.5" y1="84.3" x2="132.0" y2="84.3"/>
<line x1="126.5" y1="63.7" x2="132.0" y2="63.7"/>
<line x1="126.5" y1="43.0" x2="132.0" y2="43.0"/>
<line x1="132.0" y1="755.4" x2="132.0" y2="764.4" stroke-width="1.2"/>
<line x1="142.3" y1="755.4" x2="142.3" y2="759.9" stroke-width="1.2"/>
<line x1="152.7" y1="755.4" x2="152.7" y2="759.9" stroke-width="1.2"/>
<line x1="163.0" y1="755.4" x2="163.0" y2="759.9" stroke-width="1.2"/>
<line x1="173.4" y1="755.4" x2="173.4" y2="759.9" stroke-width="1.2"/>
<line x1="183.7" y1="755.4" x2="183.7" y2="761.9" stroke-width="1.2"/>
<line x1="194.0" y1="755.4" x2="194.0" y2="759.9" stroke-width="1.2"/>
<line x1="204.4" y1="755.4" x2="204.4" y2="759.9" stroke-width="1.2"/>
<line x1="214.7" y1="755.4" x2="214.7" y2="759.9" stroke-width="1.2"/>
<line x1="225.0" y1="755.4" x2="225.0" y2="759.9" stroke-width="1.2"/>
<line x1="235.4" y1="755.4" x2="235.4" y2="764.4" stroke-width="1.2"/>
<line x1="245.7" y1="755.4" x2="245.7" y2="759.9" stroke-width="1.2"/>
<line x1="256.1" y1="755.4" x2="256.1" y2="759.9" stroke-width="1.2"/>
<line x1="266.4" y1="755.4" x2="266.4" y2="759.9" stroke-width="1.2"/>
<line x1="276.7" y1="755.4" x2="276.7" y2="759.9" stroke-width="1.2"/>
<line x1="287.1" y1="755.4" x2="287.1" y2="761.9" stroke-width="1.2"/>
<line x1="297.4" y1="755.4" x2="297.4" y2="759.9" stroke-width="1.2"/>
<line x1="307.7" y1="755.4" x2="307.7" y2="759.9" stroke-width="1.2"/>
<line x1="318.1" y1="755.4" x2="318.1" y2="759.9" stroke-width="1.2"/>
<line x1="328.4" y1="755.4" x2="328.4" y2="759.9" stroke-width="1.2"/>
<line x1="338.8" y1="755.4" x2="338.8" y2="764.4" stroke-width="1.2"/>
<line x1="349.1" y1="755.4" x2="349.1" y2="759.9" stroke-width="1.2"/>
<line x1="359.4" y1="755.4" x2="359.4" y2="759.9" stroke-width="1.2"/>
<line x1="369.8" y1="755.4" x2="369.8" y2="759.9" stroke-width="1.2"/>
<line x1="380.1" y1="755.4" x2="380.1" y2="759.9" stroke-width="1.2"/>
<line x1="390.4" y1="755.4" x2="390.4" y2="761.9" stroke-width="1.2"/>
<line x1="400.8" y1="755.4" x2="400.8" y2="759.9" stroke-width="1.2"/>
<line x1="411.1" y1="755.4" x2="411.1" y2="759.9" stroke-width="1.2"/>
<line x1="421.5" y1="755.4" x2="421.5" y2="759.9" stroke-width="1.2"/>
<line x1="431.8" y1="755.4" x2="431.8" y2="759.9" stroke-width="1.2"/>
<line x1="442.1" y1="755.4" x2="442.1" y2="764.4" stroke-width="1.2"/>
<line x1="452.5" y1="755.4" x2="452.5" y2="759.9" stroke-width="1.2"/>
<line x1="462.8" y1="755.4" x2="462.8" y2="759.9" stroke-width="1.2"/>
<line x1="473.2" y1="755.4" x2="473.2" y2="759.9" stroke-width="1.2"/>
<line x1="483.5" y1="755.4" x2="483.5" y2="759.9" stroke-width="1.2"/>
<line x1="493.8" y1="755.4" x2="493.8" y2="761.9" stroke-width="1.2"/>
<line x1="504.2" y1="755.4" x2="504.2" y2="759.9" stroke-width="1.2"/>
<line x1="514.5" y1="755.4" x2="514.5" y2="759.9" stroke-width="1.2"/>
<line x1="524.8" y1="755.4" x2="524.8" y2="759.9" stroke-width="1.2"/>
<line x1="535.2" y1="755.4" x2="535.2" y2="759.9" stroke-width="1.2"/>
<line x1="545.5" y1="755.4" x2="545.5" y2="764.4" stroke-width="1.2"/>
<line x1="555.9" y1="755.4" x2="555.9" y2="759.9" stroke-width="1.2"/>
<line x1="566.2" y1="755.4" x2="566.2" y2="759.9" stroke-width="1.2"/>
<line x1="576.5" y1="755.4" x2="576.5" y2="759.9" stroke-width="1.2"/>
<line x1="586.9" y1="755.4" x2="586.9" y2="759.9" stroke-width="1.2"/>
<line x1="597.2" y1="755.4" x2="597.2" y2="761.9" stroke-width="1.2"/>
<line x1="607.5" y1="755.4" x2="607.5" y2="759.9" stroke-width="1.2"/>
<line x1="617.9" y1="755.4" x2="617.9" y2="759.9" stroke-width="1.2"/>
<line x1="628.2" y1="755.4" x2="628.2" y2="759.9" stroke-width="1.2"/>
<line x1="638.6" y1="755.4" x2="638.6" y2="759.9" stroke-width="1.2"/>
<line x1="648.9" y1="755.4" x2="648.9" y2="764.4" stroke-width="1.2"/>
</g>
<g class="lab">
<text x="117.5" y="92.8" text-anchor="end">30</text>
<text x="117.5" y="196.0" text-anchor="end">20</text>
<text x="117.5" y="299.3" text-anchor="end">10</text>
<text x="117.5" y="402.5" text-anchor="end">0</text>
<text x="117.5" y="505.7" text-anchor="end">-10</text>
<text x="117.5" y="609.0" text-anchor="end">-20</text>
<text x="117.5" y="712.2" text-anchor="end">-30</text>
<text x="132.0" y="788.7" text-anchor="middle">0</text>
<text x="235.4" y="788.7" text-anchor="middle">10</text>
<text x="338.8" y="788.7" text-anchor="middle">20</text>
<text x="442.1" y="788.7" text-anchor="middle">30</text>
<text x="545.5" y="788.7" text-anchor="middle">40</text>
<text x="648.9" y="788.7" text-anchor="middle">50</text>
</g>
<text class="ttl" x="93" y="23.2" textLength="59" lengthAdjust="spacingAndGlyphs">Meter</text>
<text class="ttl" x="656.8" y="754.2" textLength="59" lengthAdjust="spacingAndGlyphs">Meter</text>
</svg>
</body></html>
